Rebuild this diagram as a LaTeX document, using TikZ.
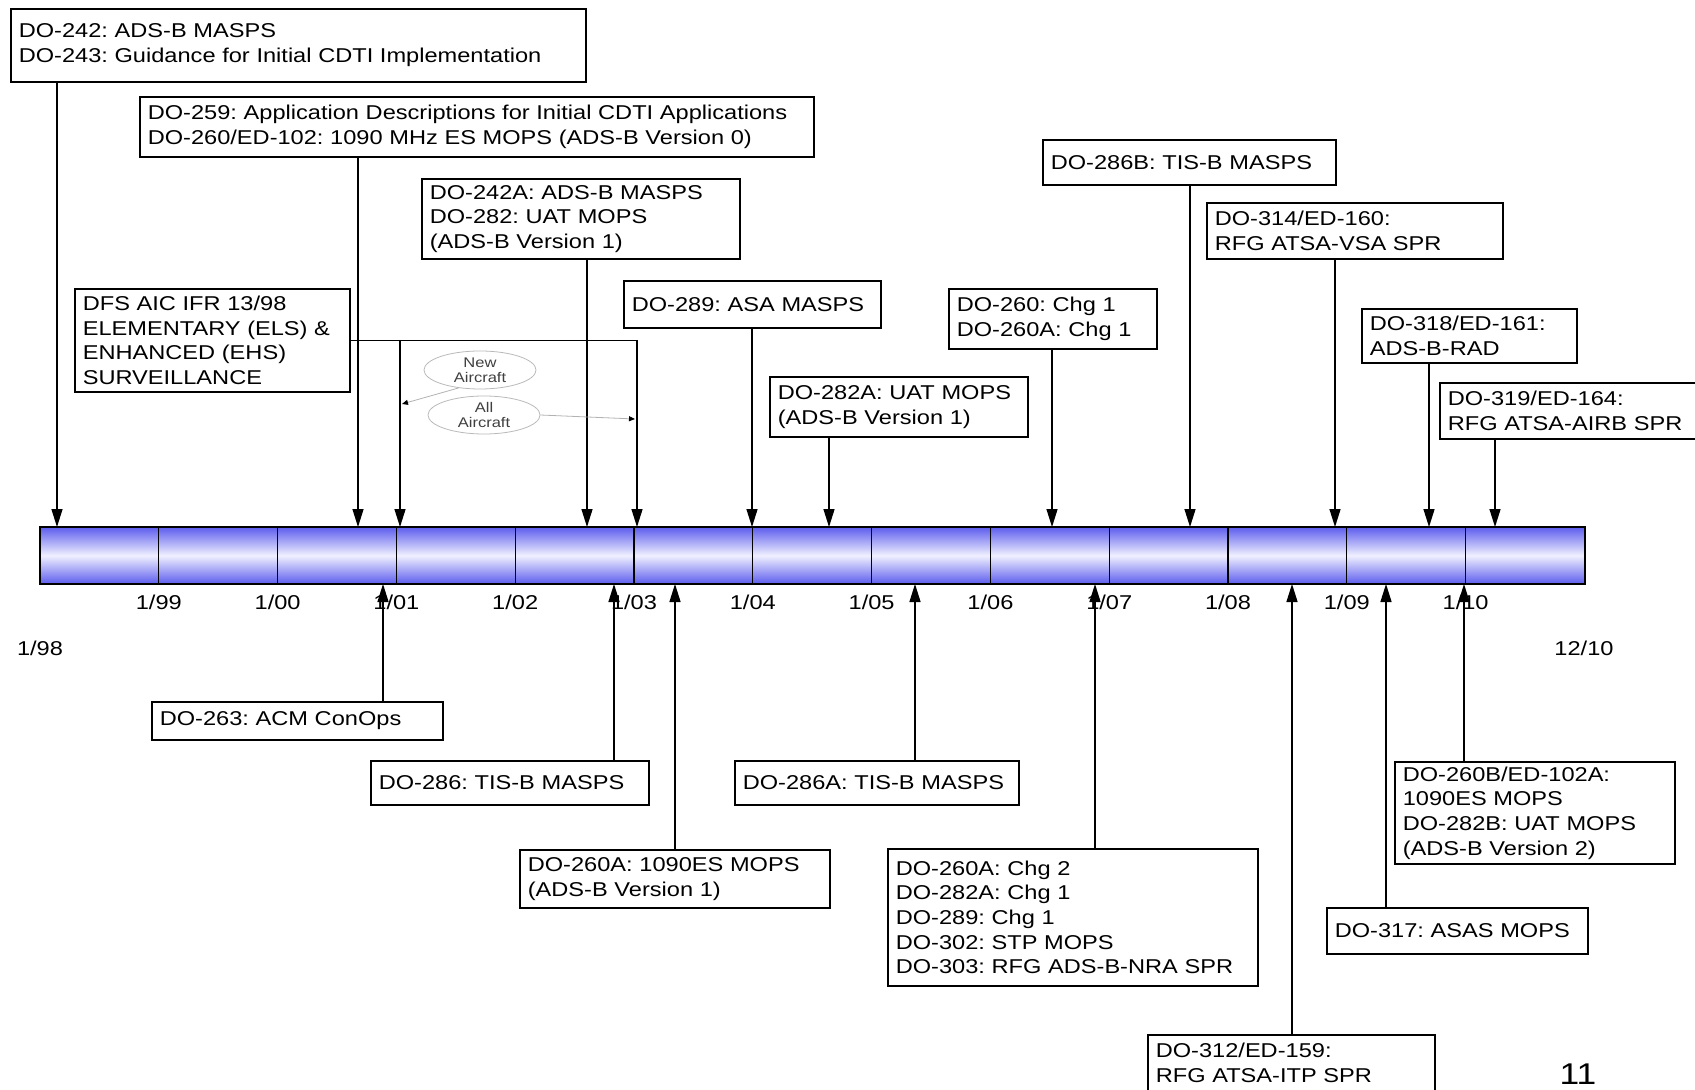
\documentclass[tikz,border=0pt]{standalone}
\usepackage{fontspec}
\setmainfont{Liberation Sans}[FakeStretch=1.18]
\usetikzlibrary{arrows.meta,positioning,shapes.geometric}
\frenchspacing

\definecolor{barblue}{RGB}{92,92,238}
\definecolor{barlight}{RGB}{240,240,255}

\tikzset{
  doc/.style={rectangle, draw, line width=0.8pt, anchor=north west, align=left,
    inner xsep=4pt, inner ysep=2.5pt, font=\fontsize{10}{12.3}\selectfont},
  arr/.style={-{Triangle[length=9pt,width=5.5pt]}, line width=0.7pt},
  yearlbl/.style={font=\fontsize{10}{12}\selectfont},
  fleet/.style={ellipse, draw=gray!55, line width=0.4pt, minimum width=56pt, minimum height=19pt,
    inner sep=0pt, align=center, font=\fontsize{7}{7.5}\selectfont, text=black!75},
  fleetarr/.style={-{Triangle[length=3pt,width=2.5pt,color=black]}, draw=gray!60, line width=0.4pt},
}

\begin{document}
\begin{tikzpicture}[x=0.5pt, y=-0.5pt]
    \clip (0,0) rectangle (1695,1090);

    % time bar
    \shade[top color=barblue, bottom color=barblue, middle color=barlight] (40,527) rectangle (1585,584);
    \draw[line width=0.8pt] (40,527) rectangle (1585,584);
    \foreach \i/\yr in {1/99,2/00,3/01,4/02,5/03,6/04,7/05,8/06,9/07,10/08,11/09,12/10} {
        \draw[line width=0.6pt] (40+118.8*\i,527) -- (40+118.8*\i,584);
        \node[yearlbl] (yr\i) at (40+118.8*\i,602) {1/\yr};
    }
    \node[yearlbl] (first) at (40,648) {1/98};
    \node[yearlbl] (last) at (1584,648) {12/10};

    % arrow ends on the bar
    \foreach \n/\x in {ta/57, tb/358, tda/400, tc/587, tdb/637, te/752, tf/829, tg/1052, th/1190, ti/1335, tj/1429, tk/1495}
        \coordinate (\n) at (\x,527);
    \foreach \n/\x in {bl/383, bm/614, bn/675, bo/915, bp/1095, bq/1292, bs/1386, br/1464}
        \coordinate (\n) at (\x,584);

    % documents above
    \node[doc, text width=279.5pt, minimum height=36.5pt] (masps) at (10,8) {DO-242: ADS-B MASPS\\DO-243: Guidance for Initial CDTI Implementation};
    \node[doc, text width=329pt, minimum height=30pt] (apps) at (139,96) {DO-259: Application Descriptions for Initial CDTI Applications\\DO-260/ED-102: 1090 MHz ES MOPS (ADS-B Version 0)};
    \node[doc, text width=151pt, minimum height=40pt] (uat) at (421,178) {DO-242A: ADS-B MASPS\\DO-282: UAT MOPS\\(ADS-B Version 1)};
    \node[doc, text width=129.5pt, minimum height=51.5pt] (dfs) at (74,288) {DFS AIC IFR 13/98\\ELEMENTARY (ELS) \&\\ENHANCED (EHS)\\SURVEILLANCE};
    \node[doc, text width=120.5pt, minimum height=23.5pt] (asa) at (623,280) {DO-289: ASA MASPS};
    \node[doc, text width=121pt, minimum height=30pt] (uata) at (769,376) {DO-282A: UAT MOPS\\(ADS-B Version 1)};
    \node[doc, text width=96pt, minimum height=30pt] (chgone) at (948,288) {DO-260: Chg 1\\DO-260A: Chg 1};
    \node[doc, text width=138.5pt, minimum height=22.5pt] (tisbb) at (1042,139) {DO-286B: TIS-B MASPS};
    \node[doc, text width=140pt, minimum height=28pt] (vsa) at (1206,202) {DO-314/ED-160:\\RFG ATSA-VSA SPR};
    \node[doc, text width=99.5pt, minimum height=27pt] (rad) at (1361,308) {DO-318/ED-161:\\ADS-B-RAD};
    \node[doc, text width=132.5pt, minimum height=28pt] (airb) at (1439,382) {DO-319/ED-164:\\RFG ATSA-AIRB SPR};

    % documents below
    \node[doc, text width=137.5pt, minimum height=19pt] (acm) at (151,701) {DO-263: ACM ConOps};
    \node[doc, text width=131pt, minimum height=22pt] (tisb) at (370,760) {DO-286: TIS-B MASPS};
    \node[doc, text width=147pt, minimum height=29pt] (es) at (519,849) {DO-260A: 1090ES MOPS\\(ADS-B Version 1)};
    \node[doc, text width=134pt, minimum height=22pt] (tisba) at (734,760) {DO-286A: TIS-B MASPS};
    \node[doc, text width=177pt, minimum height=68.5pt] (chgtwo) at (887,848) {DO-260A: Chg 2\\DO-282A: Chg 1\\DO-289: Chg 1\\DO-302: STP MOPS\\DO-303: RFG ADS-B-NRA SPR};
    \node[doc, text width=135.5pt, minimum height=28pt] (itp) at (1147,1034) {DO-312/ED-159:\\RFG ATSA-ITP SPR};
    \node[doc, text width=132pt, minimum height=51pt] (verb) at (1394,761) {DO-260B/ED-102A:\\1090ES MOPS\\DO-282B: UAT MOPS\\(ADS-B Version 2)};
    \node[doc, text width=122.5pt, minimum height=23pt] (asas) at (1326,907) {DO-317: ASAS MOPS};

    % fleet notes
    \node[fleet] (newac) at (480,370) {New\\Aircraft};
    \node[fleet] (allac) at (484,415) {All\\Aircraft};
    \coordinate (newend) at (402,404);
    \coordinate (allend) at (635,419);

    \node[font=\fontsize{15}{16}\selectfont] (pagenum) at (1578,1074) {11};

    % connectors
    \draw[arr] (masps.south -| ta) -- (ta);
    \draw[arr] (apps.south -| tb) -- (tb);
    \draw[arr] (dfs.east) -| (tdb);
    \draw[arr] (dfs.east -| tda) -- (tda);
    \draw[arr] (uat.south -| tc) -- (tc);
    \draw[arr] (asa.south -| te) -- (te);
    \draw[arr] (uata.south -| tf) -- (tf);
    \draw[arr] (chgone.south -| tg) -- (tg);
    \draw[arr] (tisbb.south -| th) -- (th);
    \draw[arr] (vsa.south -| ti) -- (ti);
    \draw[arr] (rad.south -| tj) -- (tj);
    \draw[arr] (airb.south -| tk) -- (tk);

    \draw[arr] (acm.north -| bl) -- (bl);
    \draw[arr] (tisb.north -| bm) -- (bm);
    \draw[arr] (es.north -| bn) -- (bn);
    \draw[arr] (tisba.north -| bo) -- (bo);
    \draw[arr] (chgtwo.north -| bp) -- (bp);
    \draw[arr] (itp.north -| bq) -- (bq);
    \draw[arr] (asas.north -| bs) -- (bs);
    \draw[arr] (verb.north -| br) -- (br);

    \draw[fleetarr] (newac.220) -- (newend);
    \draw[fleetarr] (allac.east) -- (allend);
\end{tikzpicture}
\end{document}
